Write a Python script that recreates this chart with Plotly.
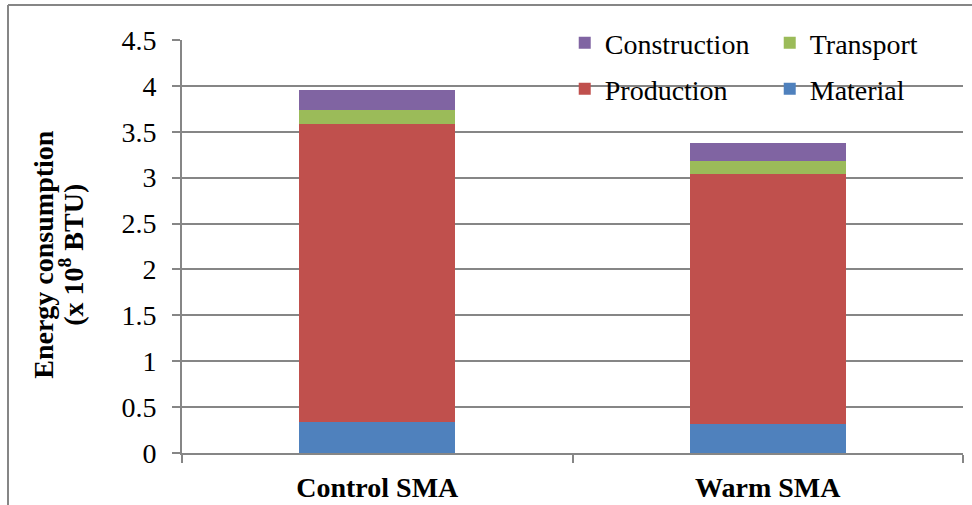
import plotly.graph_objects as go

# Energy consumption by stage (x 10^8 BTU)
categories = ["Control SMA", "Warm SMA"]
material = [0.34, 0.32]
production = [3.24, 2.72]
transport = [0.155, 0.14]
construction = [0.215, 0.195]

y_ticks = [0, 0.5, 1, 1.5, 2, 2.5, 3, 3.5, 4, 4.5]
y_tick_text = ["0", "0.5", "1", "1.5", "2", "2.5", "3", "3.5", "4", "4.5"]

FONT = "Liberation Serif"
GREY = "#868686"

series = [
    ("Material", material, "#4F81BD", "legend2"),
    ("Production", production, "#C0504D", "legend2"),
    ("Transport", transport, "#9BBB59", "legend"),
    ("Construction", construction, "#8064A2", "legend"),
]

fig = go.Figure()
for name, vals, color, leg in series:
    fig.add_trace(go.Bar(
        x=categories, y=vals, name=name, legend=leg,
        marker=dict(color=color, line=dict(width=0)),
    ))

legend_common = dict(
    orientation="h", traceorder="reversed",
    font=dict(family=FONT, size=28, color="black"),
    entrywidth=160, entrywidthmode="pixels",
    bgcolor="rgba(0,0,0,0)", borderwidth=0,
    xref="container", yref="container",
    xanchor="left", yanchor="middle",
    itemwidth=30,
)

fig.update_layout(
    width=972, height=505,
    margin=dict(l=182, r=9, t=40, b=52, autoexpand=False),
    paper_bgcolor="white", plot_bgcolor="white",
    barmode="stack", bargap=0.6,
    font=dict(family=FONT, size=28, color="black"),
    legend=dict(x=0.581, y=1 - 43 / 505, **legend_common),
    legend2=dict(x=0.581, y=1 - 89 / 505, **legend_common),
    xaxis=dict(
        showline=True, linecolor=GREY, linewidth=2,
        ticks="outside", ticklen=8, tickcolor=GREY, tickwidth=2,
        tickson="boundaries", ticklabelstandoff=8,
        tickfont=dict(family=FONT, size=28, color="black", weight="bold"),
        showgrid=False,
    ),
    yaxis=dict(
        range=[0, 4.5], tickvals=y_ticks, ticktext=y_tick_text,
        showline=True, linecolor=GREY, linewidth=2,
        ticks="outside", ticklen=8, tickcolor=GREY, tickwidth=2,
        ticklabelstandoff=10,
        showgrid=True, gridcolor=GREY, gridwidth=2,
        tickfont=dict(family=FONT, size=28, color="black"),
        zeroline=False,
    ),
    annotations=[
        # two-line y-axis title with tight line spacing
        dict(text="<b>Energy consumption</b>", textangle=-90,
             xref="paper", yref="paper", x=(44 - 182) / 781, y=0.48,
             xanchor="center", yanchor="middle", showarrow=False,
             font=dict(family=FONT, size=28, color="black")),
        dict(text="<b>(x 10<sup>8</sup> BTU)</b>", textangle=-90,
             xref="paper", yref="paper", x=(72 - 182) / 781, y=0.48,
             xanchor="center", yanchor="middle", showarrow=False,
             font=dict(family=FONT, size=28, color="black")),
    ],
    shapes=[
        # outer chart frame
        dict(type="line", xref="paper", yref="paper",
             x0=(8 - 182) / 781, x1=1.2, y0=1 + 35 / 413, y1=1 + 35 / 413,
             line=dict(color=GREY, width=2)),
        dict(type="line", xref="paper", yref="paper",
             x0=(8 - 182) / 781, x1=(8 - 182) / 781, y0=-0.3, y1=1 + 35 / 413,
             line=dict(color=GREY, width=2)),
    ],
)

fig.write_html("out.html")
